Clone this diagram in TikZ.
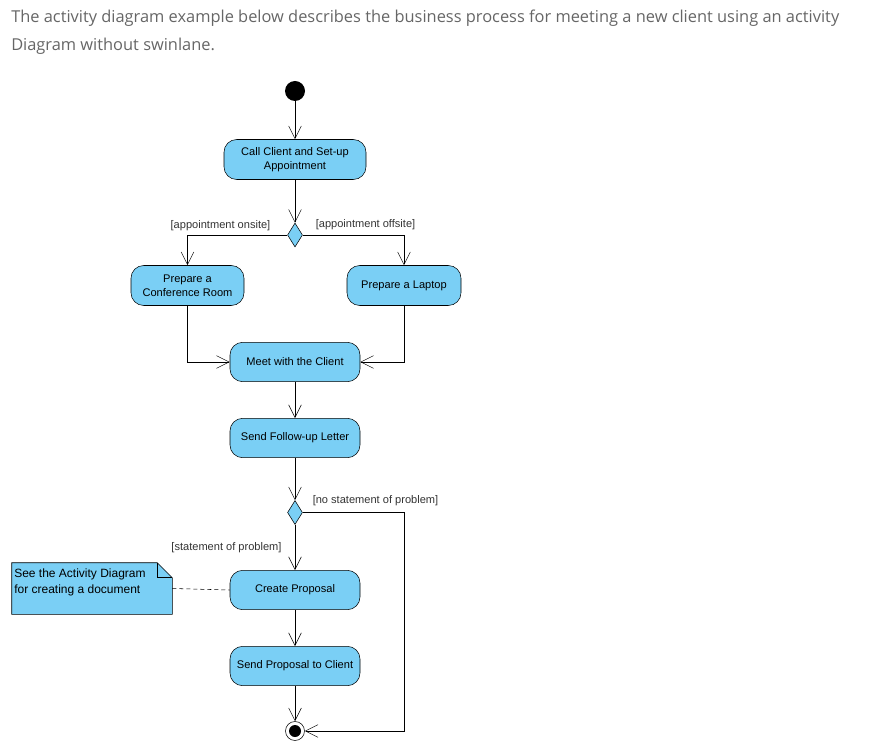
\documentclass[tikz,border=0pt]{standalone}
\usepackage{fontspec}
\setmainfont{Liberation Sans}
\newfontfamily\headfont{Open Sans}
\usetikzlibrary{arrows.meta,shapes.geometric}

\definecolor{actblue}{HTML}{7ACFF5}
\definecolor{headgray}{HTML}{666666}
\definecolor{guardgray}{HTML}{333333}

\tikzset{
  action/.style={draw, fill=actblue, rounded corners=9.5pt, minimum width=97.5pt,
    minimum height=29.5pt, align=center, inner sep=1pt, font=\fontsize{8.3}{10.5}\selectfont},
  decision/.style={draw, fill=actblue, diamond, minimum width=11.25pt,
    minimum height=18pt, inner sep=0pt},
  flow/.style={-{Straight Barb[length=9.5pt,width=9.5pt]}},
  guard/.style={text=guardgray, inner sep=0pt, font=\fontsize{8.3}{10}\selectfont},
  headline/.style={anchor=west, text=headgray, inner sep=0pt, font=\headfont\fontsize{12.3}{15}\selectfont},
}

\begin{document}
\begin{tikzpicture}[x=0.75pt, y=-0.75pt]
  \useasboundingbox (0,0) rectangle (877,748);
  \def \mid {295} % x of the main flow
  \def \side {404} % x of the right return line

  % intro text
  \node[headline] (head1) at (11,18) {The activity diagram example below describes the business process for meeting a new client using an activity};
  \node[headline] (head2) at (11,46) {Diagram without swinlane.};

  % start and end
  \node[circle, fill=black, minimum size=15pt, inner sep=0pt] (start) at (\mid,91) {};
  \node[circle, draw, fill=white, minimum size=14.25pt, inner sep=0pt] (stop) at (\mid,731) {};
  \node[circle, fill=black, minimum size=9pt, inner sep=0pt] (stopdot) at (stop) {};

  % actions
  \node[action, minimum width=106.5pt, minimum height=30pt] (call) at (\mid,159.5) {Call Client and Set-up\\Appointment};
  \node[action, minimum width=84.75pt, minimum height=30pt] (room) at (187.5,285.5) {Prepare a\\Conference Room};
  \node[action, minimum width=85.5pt, minimum height=30pt] (laptop) at (\side,285.5) {Prepare a Laptop};
  \node[action] (meet) at (\mid,362) {Meet with the Client};
  \node[action] (letter) at (\mid,438) {Send Follow-up Letter};
  \node[action] (proposal) at (\mid,590) {Create Proposal};
  \node[action] (sendprop) at (\mid,666) {Send Proposal to Client};

  % decisions
  \node[decision] (place) at (\mid,235) {};
  \node[decision] (problem) at (\mid,512.5) {};
  \coordinate (turn) at (\side,512.5);

  % flows down the middle
  \foreach \a/\b in {start/call, call/place, meet/letter, letter/problem, problem/proposal, proposal/sendprop, sendprop/stop}
    \draw[flow] (\a) -- (\b);
  \draw[flow] (place.west) -| (room.north);
  \draw[flow] (place.east) -| (laptop.north);
  \draw[flow] (room.south) |- (meet.west);
  \draw[flow] (laptop.south) |- (meet.east);
  \draw[flow] (problem.east) -- (turn) |- (stop.east);

  % guards
  \node[guard] (onsite) at (220.5,225.5) {[appointment onsite]};
  \node[guard] (offsite) at (365.5,224.5) {[appointment offsite]};
  \node[guard] (noproblem) at (375.5,501) {[no statement of problem]};
  \node[guard] (withproblem) at (226.5,547.5) {[statement of problem]};

  % note
  \node[minimum width=120pt, minimum height=38.25pt, inner sep=0pt] (note) at (92,588.5) {};
  \draw[fill=actblue] (note.north west) -- ([xshift=-11.25pt]note.north east)
    -- ([yshift=-11.25pt]note.north east) -- (note.south east) -- (note.south west) -- cycle;
  \draw ([xshift=-11.25pt]note.north east) |- ([yshift=-11.25pt]note.north east);
  \node[anchor=north west, align=left, inner sep=0pt, font=\fontsize{9}{12}\selectfont] (notetext) at (14,568.5) {See the Activity Diagram\\for creating a document};
  \draw[dash pattern=on 3pt off 2.25pt] (note.east) -- (proposal.west);
\end{tikzpicture}
\end{document}
